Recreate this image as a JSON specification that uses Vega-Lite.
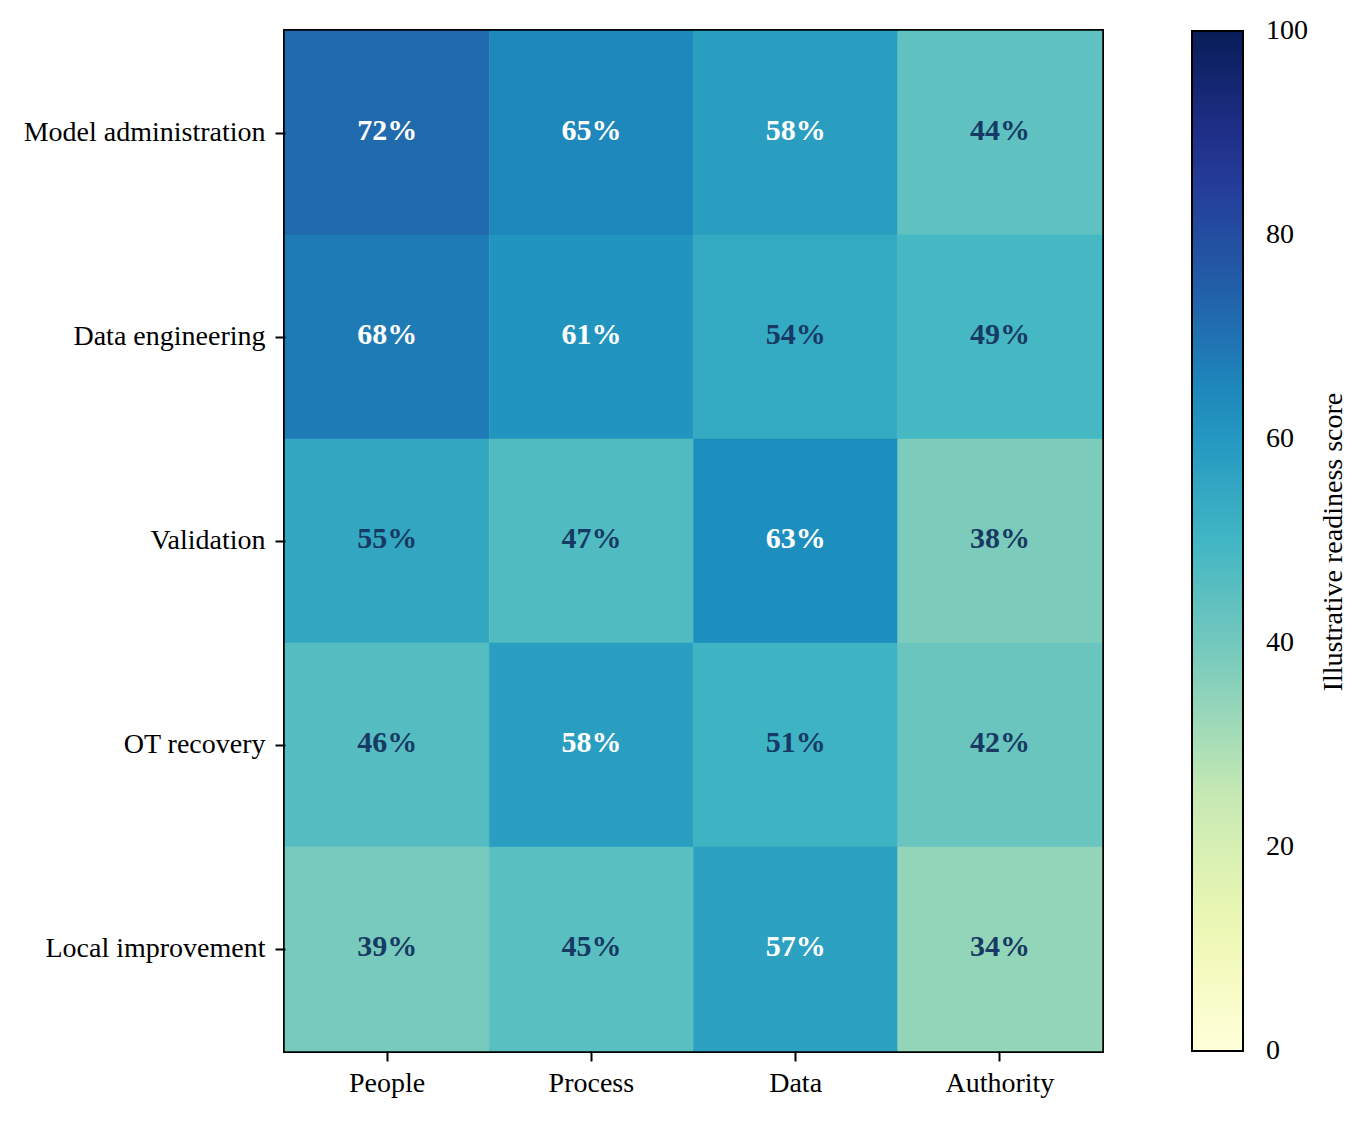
{
  "$schema": "https://vega.github.io/schema/vega-lite/v6.json",
  "description": "Heatmap of illustrative readiness scores by capability and dimension.",
  "autosize": "none",
  "padding": {"left": 285, "top": 31, "right": 267, "bottom": 70},
  "width": 817,
  "height": 1020,
  "background": "white",
  "data": {
    "values": [
      {"capability": "Model administration", "dimension": "People", "score": 72},
      {"capability": "Model administration", "dimension": "Process", "score": 65},
      {"capability": "Model administration", "dimension": "Data", "score": 58},
      {"capability": "Model administration", "dimension": "Authority", "score": 44},
      {"capability": "Data engineering", "dimension": "People", "score": 68},
      {"capability": "Data engineering", "dimension": "Process", "score": 61},
      {"capability": "Data engineering", "dimension": "Data", "score": 54},
      {"capability": "Data engineering", "dimension": "Authority", "score": 49},
      {"capability": "Validation", "dimension": "People", "score": 55},
      {"capability": "Validation", "dimension": "Process", "score": 47},
      {"capability": "Validation", "dimension": "Data", "score": 63},
      {"capability": "Validation", "dimension": "Authority", "score": 38},
      {"capability": "OT recovery", "dimension": "People", "score": 46},
      {"capability": "OT recovery", "dimension": "Process", "score": 58},
      {"capability": "OT recovery", "dimension": "Data", "score": 51},
      {"capability": "OT recovery", "dimension": "Authority", "score": 42},
      {"capability": "Local improvement", "dimension": "People", "score": 39},
      {"capability": "Local improvement", "dimension": "Process", "score": 45},
      {"capability": "Local improvement", "dimension": "Data", "score": 57},
      {"capability": "Local improvement", "dimension": "Authority", "score": 34}
    ]
  },
  "transform": [
    {"calculate": "datum.score + '%'", "as": "label"}
  ],
  "encoding": {
    "x": {
      "field": "dimension",
      "type": "nominal",
      "sort": ["People", "Process", "Data", "Authority"],
      "scale": {"paddingInner": 0, "paddingOuter": 0},
      "axis": {"title": null, "labelAngle": 0, "labelPadding": 8}
    },
    "y": {
      "field": "capability",
      "type": "nominal",
      "sort": ["Model administration", "Data engineering", "Validation", "OT recovery", "Local improvement"],
      "scale": {"paddingInner": 0, "paddingOuter": 0},
      "axis": {"title": null, "labelPadding": 10}
    }
  },
  "layer": [
    {
      "mark": {"type": "rect", "strokeWidth": 0.5},
      "encoding": {
        "color": {
          "field": "score",
          "type": "quantitative",
          "scale": {
            "type": "linear",
            "domain": [0, 12.5, 25, 37.5, 50, 62.5, 75, 87.5, 100],
            "range": ["#ffffd9", "#edf8b1", "#c7e9b4", "#7fcdbb", "#41b6c4", "#1d91c0", "#225ea8", "#253494", "#081d58"],
            "interpolate": "rgb"
          },
          "legend": {
            "type": "gradient",
            "title": "Illustrative readiness score",
            "titleOrient": "right",
            "titleAnchor": "middle",
            "titleFontSize": 28,
            "titleFontWeight": "normal",
            "titleFont": "Liberation Serif",
            "titleColor": "black",
            "titlePadding": 12,
            "titleLimit": 0,
            "gradientLength": 1020,
            "gradientThickness": 51,
            "gradientStrokeColor": "black",
            "gradientStrokeWidth": 2,
            "values": [0, 20, 40, 60, 80, 100],
            "labelFontSize": 28,
            "labelFont": "Liberation Serif",
            "labelColor": "black",
            "labelOffset": 23,
            "offset": 90,
            "padding": 0,
            "encode": {
              "title": {"update": {"angle": {"value": -90}, "baseline": {"value": "top"}}},
              "labels": {"update": {"baseline": {"value": "middle"}}}
            }
          }
        },
        "stroke": {
          "field": "score",
          "type": "quantitative",
          "scale": {
            "type": "linear",
            "domain": [0, 12.5, 25, 37.5, 50, 62.5, 75, 87.5, 100],
            "range": ["#ffffd9", "#edf8b1", "#c7e9b4", "#7fcdbb", "#41b6c4", "#1d91c0", "#225ea8", "#253494", "#081d58"],
            "interpolate": "rgb"
          },
          "legend": null
        }
      }
    },
    {
      "mark": {"type": "text", "fontSize": 30, "fontWeight": "bold", "font": "Liberation Serif", "baseline": "middle", "dy": -2},
      "encoding": {
        "text": {"field": "label", "type": "nominal"},
        "color": {
          "condition": {"test": "datum.score >= 56", "value": "white"},
          "value": "#173a64"
        }
      }
    }
  ],
  "resolve": {"legend": {"stroke": "independent"}},
  "config": {
    "view": {"stroke": "black", "strokeWidth": 4},
    "axis": {
      "labelFont": "Liberation Serif",
      "labelFontSize": 28,
      "labelColor": "black",
      "labelLimit": 0,
      "domain": false,
      "tickColor": "black",
      "tickWidth": 2,
      "tickSize": 10
    }
  }
}
